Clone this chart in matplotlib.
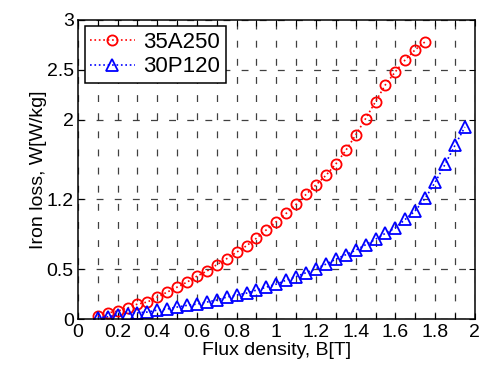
import numpy as np
import matplotlib
matplotlib.use("Agg")
import matplotlib.pyplot as plt

# flux density steps (T)
b_35a = [0.10, 0.15, 0.20, 0.25, 0.30, 0.35, 0.40, 0.45, 0.50, 0.55,
         0.60, 0.65, 0.70, 0.75, 0.80, 0.85, 0.90, 0.95, 1.00, 1.05,
         1.10, 1.15, 1.20, 1.25, 1.30, 1.35, 1.40, 1.45, 1.50, 1.55,
         1.60, 1.65, 1.70, 1.75]
w_35a = [0.03, 0.06, 0.08, 0.11, 0.15, 0.17, 0.22, 0.27, 0.32, 0.37,
         0.43, 0.48, 0.545, 0.605, 0.67, 0.735, 0.81, 0.895, 0.976, 1.06,
         1.15, 1.25, 1.345, 1.44, 1.555, 1.69, 1.845, 2.01, 2.18, 2.35,
         2.48, 2.60, 2.70, 2.78]

b_30p = [0.10, 0.15, 0.20, 0.25, 0.30, 0.35, 0.40, 0.45, 0.50, 0.55,
         0.60, 0.65, 0.70, 0.75, 0.80, 0.85, 0.90, 0.95, 1.00, 1.05,
         1.10, 1.15, 1.20, 1.25, 1.30, 1.35, 1.40, 1.45, 1.50, 1.55,
         1.60, 1.65, 1.70, 1.75, 1.80, 1.85, 1.90, 1.95]
w_30p = [0.013, 0.023, 0.04, 0.05, 0.063, 0.07, 0.09, 0.10, 0.12, 0.137,
         0.15, 0.17, 0.19, 0.22, 0.24, 0.26, 0.29, 0.32, 0.35, 0.39,
         0.425, 0.465, 0.505, 0.55, 0.60, 0.645, 0.69, 0.745, 0.80, 0.86,
         0.915, 1.0, 1.085, 1.21, 1.37, 1.55, 1.74, 1.925]

x_ticks = np.round(np.arange(0, 2.01, 0.1), 1)
x_labels = ["%g" % v if i % 2 == 0 else "" for i, v in enumerate(x_ticks)]
y_ticks = [0, 0.5, 1.2, 2, 2.5, 3]
y_labels = ["0", "0.5", "1.2", "2", "2.5", "3"]

plt.rcParams['font.family'] = ['Liberation Sans', 'DejaVu Sans']

fig = plt.figure(figsize=(4.81, 3.74), dpi=100)
ax = fig.add_axes([0.162, 0.147, 0.825, 0.8])

ax.plot(b_35a, w_35a, linestyle=':', color='red', marker='o', markersize=7.3,
        markerfacecolor='none', markeredgewidth=1.3, linewidth=1.2, label='35A250')
ax.plot(b_30p, w_30p, linestyle=':', color='blue', marker='^', markersize=8,
        markerfacecolor='none', markeredgewidth=1.3, linewidth=1.2, label='30P120')

ax.set_xlim(0, 2)
ax.set_ylim(0, 3)
ax.set_xticks(x_ticks)
ax.set_xticklabels(x_labels)
ax.set_yticks(y_ticks)
ax.set_yticklabels(y_labels)
ax.tick_params(direction='in', top=True, right=True, length=4, width=0.8,
               labelsize=14)
ax.tick_params(axis='x', pad=3.5)
ax.tick_params(axis='y', pad=3)
ax.grid(True, linestyle=(0, (5.5, 9)), color='black', linewidth=0.9, alpha=0.75)

for s in ax.spines.values():
    s.set_linewidth(1.1)

ax.set_xlabel('Flux density, B[T]', fontsize=14, labelpad=1)
ax.set_ylabel('Iron loss, W[W/kg]', fontsize=14, labelpad=0)

leg = ax.legend(loc='upper left', fontsize=16, fancybox=False, framealpha=1,
                edgecolor='black', handlelength=2.0, borderaxespad=0.3,
                labelspacing=0.15, borderpad=0.25, handletextpad=0.4)
leg.get_frame().set_linewidth(1.1)

fig.savefig('out.png', dpi=100)
